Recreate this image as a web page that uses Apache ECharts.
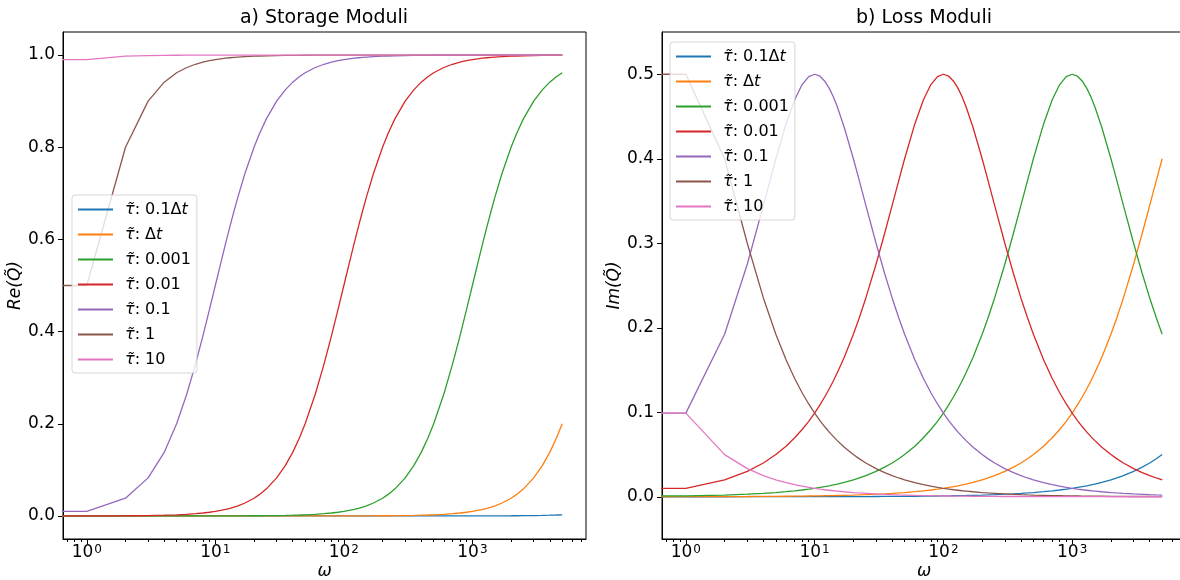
<!DOCTYPE html>
<html>
<head>
<meta charset="utf-8">
<script src="https://cdn.jsdelivr.net/npm/echarts@6/dist/echarts.min.js"></script>
<style>
html, body { margin: 0; padding: 0; background: #fff; }
#chart { width: 1180px; height: 580px; }
</style>
</head>
<body>
<div id="chart"></div>
<script>
// ω samples; the first entry stands in for the ω = 0 sample that falls off the log axis
const omega = [0.5, 1, 2, 3, 4, 5, 6, 7, 8, 9, 10,
  11, 12, 13, 14, 15, 17, 20, 22, 25, 30, 35, 40, 45, 50, 60, 70, 80, 90, 100,
  110, 120, 130, 140, 150, 170, 200, 220, 250, 300, 350, 400, 450, 500, 600, 700, 800, 900, 1000,
  1100, 1200, 1300, 1400, 1500, 1700, 2000, 2200, 2500, 3000, 3500, 4000, 4500, 5000];

const tauNames = ['0.1Δt', 'Δt', '0.001', '0.01', '0.1', '1', '10'];
const colors = ['#1f77b4', '#ff7f0e', '#2ca02c', '#d62728', '#9467bd', '#8c564b', '#e377c2'];

// a) storage moduli
const reTau01dt = [0, 0, 0, 0, 0, 0, 0, 0, 0, 0, 0,
  0, 0, 0, 0, 0, 0, 0, 0, 0, 0, 0, 0, 0, 0, 0, 0, 0, 0, 0,
  0, 0, 0, 0, 0, 0, 0, 0, 0, 0, 0, 0, 0, 0, 0, 0, 0.00006, 0.00008, 0.0001,
  0.00012, 0.00014, 0.00017, 0.0002, 0.00022, 0.00029, 0.0004, 0.00048, 0.00062, 0.0009, 0.00122, 0.0016, 0.00202, 0.0025];
const reTauDt = [0, 0, 0, 0, 0, 0, 0, 0, 0, 0, 0,
  0, 0, 0, 0, 0, 0, 0, 0, 0, 0, 0, 0, 0, 0, 0, 0, 0.00006, 0.00008, 0.0001,
  0.00012, 0.00014, 0.00017, 0.0002, 0.00022, 0.00029, 0.0004, 0.00048, 0.00062, 0.0009, 0.00122, 0.0016, 0.00202, 0.0025, 0.0036, 0.0049, 0.0064, 0.008, 0.0099,
  0.012, 0.0142, 0.0166, 0.0192, 0.022, 0.0281, 0.0385, 0.0462, 0.0588, 0.0826, 0.1091, 0.1379, 0.1684, 0.2];
const reTau0001 = [0, 0, 0, 0, 0, 0, 0, 0, 0.00006, 0.00008, 0.0001,
  0.00012, 0.00014, 0.00017, 0.0002, 0.00022, 0.00029, 0.0004, 0.00048, 0.00062, 0.0009, 0.00122, 0.0016, 0.00202, 0.0025, 0.0036, 0.0049, 0.0064, 0.008, 0.0099,
  0.012, 0.0142, 0.0166, 0.0192, 0.022, 0.0281, 0.0385, 0.0462, 0.0588, 0.0826, 0.1091, 0.1379, 0.1684, 0.2, 0.2647, 0.3289, 0.3902, 0.4475, 0.5,
  0.5475, 0.5902, 0.6283, 0.6622, 0.6923, 0.7429, 0.8, 0.8288, 0.8621, 0.9, 0.9245, 0.9412, 0.9529, 0.9615];
const reTau001 = [0.0001, 0.0001, 0.0004, 0.0009, 0.0016, 0.0025, 0.0036, 0.0049, 0.0064, 0.008, 0.0099,
  0.012, 0.0142, 0.0166, 0.0192, 0.022, 0.0281, 0.0385, 0.0462, 0.0588, 0.0826, 0.1091, 0.1379, 0.1684, 0.2, 0.2647, 0.3289, 0.3902, 0.4475, 0.5,
  0.5475, 0.5902, 0.6283, 0.6622, 0.6923, 0.7429, 0.8, 0.8288, 0.8621, 0.9, 0.9245, 0.9412, 0.9529, 0.9615, 0.973, 0.98, 0.9846, 0.9878, 0.9901,
  0.9918, 0.9931, 0.9941, 0.9949, 0.9956, 0.9966, 0.9975, 0.9979, 0.9984, 0.9989, 0.9992, 0.9994, 0.9995, 0.9996];
const reTau01 = [0.0099, 0.0099, 0.0385, 0.0826, 0.1379, 0.2, 0.2647, 0.3289, 0.3902, 0.4475, 0.5,
  0.5475, 0.5902, 0.6283, 0.6622, 0.6923, 0.7429, 0.8, 0.8288, 0.8621, 0.9, 0.9245, 0.9412, 0.9529, 0.9615, 0.973, 0.98, 0.9846, 0.9878, 0.9901,
  0.9918, 0.9931, 0.9941, 0.9949, 0.9956, 0.9966, 0.9975, 0.9979, 0.9984, 0.9989, 0.9992, 0.9994, 0.9995, 0.9996, 0.9997, 0.9998, 0.9998, 0.9999, 0.9999,
  1, 1, 1, 1, 1, 1, 1, 1, 1, 1, 1, 1, 1, 1];
const reTau1 = [0.5, 0.5, 0.8, 0.9, 0.9412, 0.9615, 0.973, 0.98, 0.9846, 0.9878, 0.9901,
  0.9918, 0.9931, 0.9941, 0.9949, 0.9956, 0.9966, 0.9975, 0.9979, 0.9984, 0.9989, 0.9992, 0.9994, 0.9995, 0.9996, 0.9997, 0.9998, 0.9998, 0.9999, 0.9999,
  1, 1, 1, 1, 1, 1, 1, 1, 1, 1, 1, 1, 1, 1, 1, 1, 1, 1, 1,
  1, 1, 1, 1, 1, 1, 1, 1, 1, 1, 1, 1, 1, 1];
const reTau10 = [0.9901, 0.9901, 0.9975, 0.9989, 0.9994, 0.9996, 0.9997, 0.9998, 0.9998, 0.9999, 0.9999,
  1, 1, 1, 1, 1, 1, 1, 1, 1, 1, 1, 1, 1, 1, 1, 1, 1, 1, 1,
  1, 1, 1, 1, 1, 1, 1, 1, 1, 1, 1, 1, 1, 1, 1, 1, 1, 1, 1,
  1, 1, 1, 1, 1, 1, 1, 1, 1, 1, 1, 1, 1, 1];

// b) loss moduli
const imTau01dt = [0.00001, 0.00001, 0.00002, 0.00003, 0.00004, 0.00005, 0.00006, 0.00007, 0.00008, 0.00009, 0.0001,
  0.00011, 0.00012, 0.00013, 0.00014, 0.00015, 0.00017, 0.0002, 0.00022, 0.00025, 0.0003, 0.00035, 0.0004, 0.00045, 0.0005, 0.0006, 0.0007, 0.0008, 0.0009, 0.001,
  0.0011, 0.0012, 0.0013, 0.0014, 0.0015, 0.0017, 0.002, 0.0022, 0.0025, 0.003, 0.0035, 0.004, 0.0045, 0.005, 0.006, 0.007, 0.008, 0.009, 0.01,
  0.011, 0.012, 0.013, 0.014, 0.015, 0.017, 0.02, 0.022, 0.025, 0.03, 0.035, 0.0399, 0.0449, 0.0499];
const imTauDt = [0.0001, 0.0001, 0.0002, 0.0003, 0.0004, 0.0005, 0.0006, 0.0007, 0.0008, 0.0009, 0.001,
  0.0011, 0.0012, 0.0013, 0.0014, 0.0015, 0.0017, 0.002, 0.0022, 0.0025, 0.003, 0.0035, 0.004, 0.0045, 0.005, 0.006, 0.007, 0.008, 0.009, 0.01,
  0.011, 0.012, 0.013, 0.014, 0.015, 0.017, 0.02, 0.022, 0.025, 0.03, 0.035, 0.0399, 0.0449, 0.0499, 0.0598, 0.0698, 0.0796, 0.0893, 0.099,
  0.1087, 0.1183, 0.1278, 0.1373, 0.1467, 0.1652, 0.1923, 0.2098, 0.2353, 0.2752, 0.3118, 0.3448, 0.3742, 0.4];
const imTau0001 = [0.001, 0.001, 0.002, 0.003, 0.004, 0.005, 0.006, 0.007, 0.008, 0.009, 0.01,
  0.011, 0.012, 0.013, 0.014, 0.015, 0.017, 0.02, 0.022, 0.025, 0.03, 0.035, 0.0399, 0.0449, 0.0499, 0.0598, 0.0698, 0.0796, 0.0893, 0.099,
  0.1087, 0.1183, 0.1278, 0.1373, 0.1467, 0.1652, 0.1923, 0.2098, 0.2353, 0.2752, 0.3118, 0.3448, 0.3742, 0.4, 0.4412, 0.4698, 0.4878, 0.4972, 0.5,
  0.4977, 0.4918, 0.4833, 0.473, 0.4615, 0.437, 0.4, 0.3767, 0.3448, 0.3, 0.2642, 0.2353, 0.2118, 0.1923];
const imTau001 = [0.01, 0.01, 0.02, 0.03, 0.0399, 0.0499, 0.0598, 0.0698, 0.0796, 0.0893, 0.099,
  0.1087, 0.1183, 0.1278, 0.1373, 0.1467, 0.1652, 0.1923, 0.2098, 0.2353, 0.2752, 0.3118, 0.3448, 0.3742, 0.4, 0.4412, 0.4698, 0.4878, 0.4972, 0.5,
  0.4977, 0.4918, 0.4833, 0.473, 0.4615, 0.437, 0.4, 0.3767, 0.3448, 0.3, 0.2642, 0.2353, 0.2118, 0.1923, 0.1622, 0.14, 0.1231, 0.1098, 0.099,
  0.0902, 0.0828, 0.0765, 0.0711, 0.0664, 0.0586, 0.0499, 0.0454, 0.0399, 0.0333, 0.0285, 0.025, 0.0222, 0.02];
const imTau01 = [0.099, 0.099, 0.1923, 0.2752, 0.3448, 0.4, 0.4412, 0.4698, 0.4878, 0.4972, 0.5,
  0.4977, 0.4918, 0.4833, 0.473, 0.4615, 0.437, 0.4, 0.3767, 0.3448, 0.3, 0.2642, 0.2353, 0.2118, 0.1923, 0.1622, 0.14, 0.1231, 0.1098, 0.099,
  0.0902, 0.0828, 0.0765, 0.0711, 0.0664, 0.0586, 0.0499, 0.0454, 0.0399, 0.0333, 0.0285, 0.025, 0.0222, 0.02, 0.0167, 0.0143, 0.0125, 0.0111, 0.01,
  0.0091, 0.0083, 0.0077, 0.0071, 0.0067, 0.0059, 0.005, 0.0045, 0.004, 0.0033, 0.0029, 0.0025, 0.0022, 0.002];
const imTau1 = [0.5, 0.5, 0.4, 0.3, 0.2353, 0.1923, 0.1622, 0.14, 0.1231, 0.1098, 0.099,
  0.0902, 0.0828, 0.0765, 0.0711, 0.0664, 0.0586, 0.0499, 0.0454, 0.0399, 0.0333, 0.0285, 0.025, 0.0222, 0.02, 0.0167, 0.0143, 0.0125, 0.0111, 0.01,
  0.0091, 0.0083, 0.0077, 0.0071, 0.0067, 0.0059, 0.005, 0.0045, 0.004, 0.0033, 0.0029, 0.0025, 0.0022, 0.002, 0.0017, 0.0014, 0.0013, 0.0011, 0.001,
  0.0009, 0.0008, 0.0008, 0.0007, 0.0007, 0.0006, 0.0005, 0.0005, 0.0004, 0.0003, 0.0003, 0.0003, 0.0002, 0.0002];
const imTau10 = [0.099, 0.099, 0.0499, 0.0333, 0.025, 0.02, 0.0167, 0.0143, 0.0125, 0.0111, 0.01,
  0.0091, 0.0083, 0.0077, 0.0071, 0.0067, 0.0059, 0.005, 0.0045, 0.004, 0.0033, 0.0029, 0.0025, 0.0022, 0.002, 0.0017, 0.0014, 0.0013, 0.0011, 0.001,
  0.0009, 0.0008, 0.0008, 0.0007, 0.0007, 0.0006, 0.0005, 0.0005, 0.0004, 0.0003, 0.0003, 0.0003, 0.0002, 0.0002, 0.0002, 0.0001, 0.0001, 0.0001, 0.0001,
  0.0001, 0.0001, 0.0001, 0.0001, 0.0001, 0.0001, 0, 0, 0, 0, 0, 0, 0, 0];

const reSeries = [reTau01dt, reTauDt, reTau0001, reTau001, reTau01, reTau1, reTau10];
const imSeries = [imTau01dt, imTauDt, imTau0001, imTau001, imTau01, imTau1, imTau10];

// axis ticks
const xMajor = [1, 10, 100, 1000];
const xMinor = [0.7, 0.8, 0.9, 2, 3, 4, 5, 6, 7, 8, 9, 20, 30, 40, 50, 60, 70, 80, 90,
  200, 300, 400, 500, 600, 700, 800, 900, 2000, 3000, 4000, 5000, 6000, 7000];
const reTicks = [0, 0.2, 0.4, 0.6, 0.8, 1.0];
const imTicks = [0, 0.1, 0.2, 0.3, 0.4, 0.5];

const FONT = 'DejaVu Sans';
const X_MIN = 0.653;
const X_MAX = 7656;

const chart = echarts.init(document.getElementById('chart'));

function legendLabel(name) {
  if (name === '0.1Δt') return '{i|τ\u0303}: 0.1Δ{i|t}';
  if (name === 'Δt') return '{i|τ\u0303}: Δ{i|t}';
  return '{i|τ\u0303}: ' + name;
}

function makeXAxes(gi) {
  return [{
    type: 'log',
    gridIndex: gi,
    position: 'bottom',
    min: X_MIN,
    max: X_MAX,
    name: 'ω',
    nameLocation: 'middle',
    nameGap: 24,
    nameMoveOverlap: false,
    nameTextStyle: { fontFamily: FONT, fontSize: 17, fontStyle: 'italic', color: '#000' },
    axisLine: { show: true, onZero: false, lineStyle: { color: '#000', width: 1 } },
    axisTick: { show: true, length: 5, customValues: xMajor, lineStyle: { color: '#000' } },
    axisLabel: {
      customValues: xMajor,
      margin: 5,
      formatter: function (v) {
        return '{b|10}{s|' + Math.round(Math.log10(v)) + '}';
      },
      rich: {
        b: { fontFamily: FONT, fontSize: 17, color: '#000', verticalAlign: 'bottom', lineHeight: 17 },
        s: { fontFamily: FONT, fontSize: 12, color: '#000', verticalAlign: 'top', lineHeight: 12, padding: [0, 0, 8, 1] }
      }
    },
    splitLine: { show: false }
  }, {
    type: 'log',
    gridIndex: gi,
    position: 'bottom',
    min: X_MIN,
    max: X_MAX,
    axisLine: { show: false, onZero: false },
    axisTick: { show: true, length: 3, customValues: xMinor, lineStyle: { color: '#000' } },
    axisLabel: { show: false },
    splitLine: { show: false }
  }];
}

function makeYAxis(gi, min, max, ticks, name, gap) {
  return {
    type: 'value',
    gridIndex: gi,
    min: min,
    max: max,
    name: name,
    nameLocation: 'middle',
    nameGap: gap,
    nameTextStyle: { fontFamily: FONT, fontSize: 17, fontStyle: 'italic', color: '#000' },
    axisLine: { show: true, onZero: false, lineStyle: { color: '#000', width: 1 } },
    axisTick: { show: true, length: 5, customValues: ticks, lineStyle: { color: '#000' } },
    axisLabel: {
      customValues: ticks,
      margin: 8,
      fontFamily: FONT,
      fontSize: 17,
      color: '#000',
      formatter: v => v.toFixed(1)
    },
    splitLine: { show: false }
  };
}

function makeLegend(left, top) {
  return {
    data: tauNames,
    orient: 'vertical',
    left: left,
    top: top,
    icon: 'rect',
    itemWidth: 35,
    itemHeight: 2,
    itemGap: 6,
    padding: [5, 6, 4, 6],
    backgroundColor: 'rgba(255,255,255,0.8)',
    borderColor: 'rgba(204,204,204,0.8)',
    borderWidth: 1,
    borderRadius: 3,
    selectedMode: false,
    formatter: legendLabel,
    textStyle: {
      fontFamily: FONT,
      fontSize: 16,
      color: '#000',
      lineHeight: 19,
      padding: [0, 0, 0, 7],
      rich: {
        i: { fontFamily: FONT, fontSize: 16, fontStyle: 'italic', color: '#000', lineHeight: 19 }
      }
    }
  };
}

const series = [];
[reSeries, imSeries].forEach(function (group, gi) {
  group.forEach(function (vals, k) {
    series.push({
      name: tauNames[k],
      type: 'line',
      xAxisIndex: gi * 2,
      yAxisIndex: gi,
      data: omega.map((w, i) => [w, vals[i]]),
      showSymbol: false,
      symbol: 'none',
      clip: true,
      lineStyle: { width: 1.3, color: colors[k] },
      itemStyle: { color: colors[k] }
    });
  });
});

const options = {
  animation: false,
  backgroundColor: '#fff',
  grid: [
    { left: 63, top: 32, width: 523, height: 507, outerBoundsMode: 'none', show: true, borderColor: '#000', borderWidth: 1 },
    { left: 662, top: 32, width: 524, height: 507, outerBoundsMode: 'none', show: true, borderColor: '#000', borderWidth: 1 }
  ],
  graphic: [
    { type: 'text', x: 324, y: 18, style: { text: 'a) Storage Moduli', fontFamily: FONT, fontSize: 19, fill: '#000', align: 'center', verticalAlign: 'middle' } },
    { type: 'text', x: 924, y: 18, style: { text: 'b) Loss Moduli', fontFamily: FONT, fontSize: 19, fill: '#000', align: 'center', verticalAlign: 'middle' } }
  ],
  legend: [makeLegend(72, 195), makeLegend(670, 42)],
  xAxis: makeXAxes(0).concat(makeXAxes(1)),
  yAxis: [
    makeYAxis(0, -0.05, 1.05, reTicks, 'Re(Q\u0303)', 36),
    makeYAxis(1, -0.05, 0.55, imTicks, 'Im(Q\u0303)', 36)
  ],
  series: series
};

chart.setOption(options);
</script>
</body>
</html>
